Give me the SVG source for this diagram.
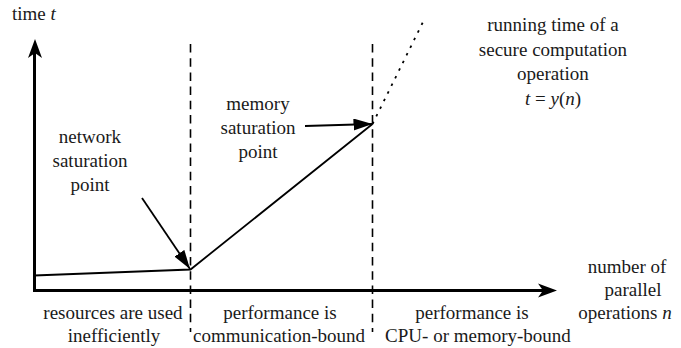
<svg xmlns="http://www.w3.org/2000/svg" width="681" height="348" viewBox="0 0 681 348">
  <defs>
    <marker id="ah" markerUnits="userSpaceOnUse" markerWidth="20" markerHeight="14" refX="19" refY="6" orient="auto">
      <path d="M0,0 L19,6 L0,12 Z" fill="#000"/>
    </marker>
    <style>
      text { font-family: "Liberation Serif", "Times New Roman", serif; font-size: 19px; fill: #1a1a1a; text-anchor: middle; }
      .it { font-style: italic; }
      .axis { stroke: #000; stroke-width: 3; fill: none; }
      .dash { stroke: #000; stroke-width: 1.6; stroke-dasharray: 8.5 5.7; fill: none; }
      .curve { stroke: #000; stroke-width: 1.8; fill: none; stroke-linejoin: miter; }
      .dot { stroke: #000; stroke-width: 1.8; stroke-dasharray: 2.5 6; fill: none; }
      .arr { stroke: #000; stroke-width: 1.8; fill: none; marker-end: url(#ah); }
    </style>
  </defs>
  <rect width="681" height="348" fill="#fff"/>

  <g id="axes">
    <line class="axis" x1="34.5" y1="292" x2="34.5" y2="50"/>
    <path d="M35,39 L42,58 L35,53 L28,58 Z" fill="#000"/>
    <line class="axis" x1="33" y1="290.5" x2="546" y2="290.5"/>
    <path d="M557,290.5 L538,283.5 L543,290.5 L538,297.5 Z" fill="#000"/>
  </g>

  <g id="boundaries">
    <line class="dash" x1="190.5" y1="44" x2="190.5" y2="332"/>
    <line class="dash" x1="372.5" y1="44" x2="372.5" y2="332"/>
  </g>

  <g id="curve">
    <polyline class="curve" points="34,275.5 190.5,269.5 372.5,124"/>
    <line class="dot" x1="372.5" y1="124" x2="423" y2="22"/>
  </g>

  <g id="connectors">
    <line class="arr" x1="142" y1="198" x2="190" y2="269"/>
    <line class="arr" x1="305" y1="126" x2="372.5" y2="124"/>
  </g>

  <g id="label-time">
    <text x="12" y="20" style="text-anchor:start">time <tspan class="it">t</tspan></text>
  </g>
  <g id="label-network">
    <text x="90" y="143">network</text>
    <text x="90" y="167">saturation</text>
    <text x="90" y="191">point</text>
  </g>
  <g id="label-memory">
    <text x="258" y="110">memory</text>
    <text x="258" y="134">saturation</text>
    <text x="258" y="158">point</text>
  </g>
  <g id="label-runtime">
    <text x="553" y="31">running time of a</text>
    <text x="553" y="56">secure computation</text>
    <text x="553" y="80">operation</text>
    <text x="553" y="105" class="it" xml:space="preserve">t <tspan style="font-style:normal">=</tspan> y<tspan style="font-style:normal">(</tspan>n<tspan style="font-style:normal">)</tspan></text>
  </g>
  <g id="label-n">
    <text x="627" y="273">number of</text>
    <text x="633" y="296">parallel</text>
    <text x="625" y="319">operations <tspan class="it">n</tspan></text>
  </g>
  <g id="region-1">
    <text x="113" y="318.5">resources are used</text>
    <text x="114" y="342">inefficiently</text>
  </g>
  <g id="region-2">
    <text x="280" y="318.5">performance is</text>
    <text x="279" y="342">communication-bound</text>
  </g>
  <g id="region-3">
    <text x="472" y="318.5">performance is</text>
    <text x="478" y="342">CPU- or memory-bound</text>
  </g>
</svg>
